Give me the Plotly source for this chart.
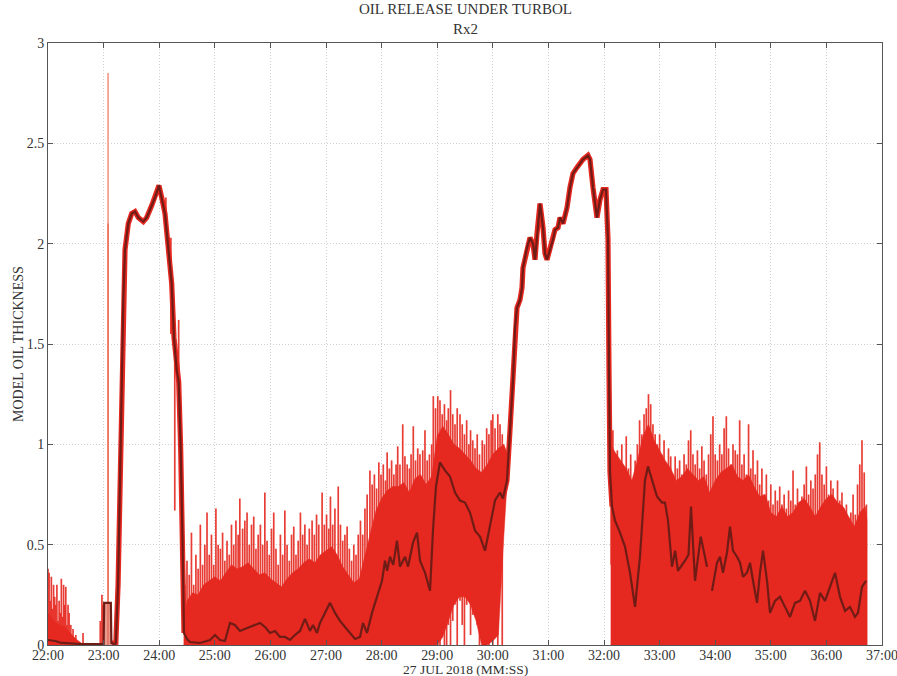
import numpy as np
import plotly.graph_objects as go

# ---------------- data (time in minutes past the hour, thickness in model units) ----------------
# smoothed model oil thickness (dark trace); None marks a gap in the record
mean_t = [22.00, 22.13, 22.22, 22.40, 22.58, 22.76, 22.94, 23.00, 23.01, 23.13, 23.14, 23.20,
          23.22, 23.26, 23.295, 23.326, 23.354, 23.385, 23.444, 23.505, 23.565, 23.624, 23.714,
          23.775, 23.865, 23.924, 23.996, 24.045, 24.104, 24.146, 24.194, 24.225, 24.266, 24.315,
          24.351, 24.387, 24.423, 24.446, 24.50, 24.554, 24.734, 24.914, 25.004, 25.094, 25.183,
          25.273, 25.36, 25.453, 25.54, 25.633, 25.72, 25.813, 25.903, 25.993, 26.083, 26.173,
          26.263, 26.353, 26.442, 26.532, 26.622, 26.712, 26.766, 26.838, 26.892, 26.982, 27.072,
          27.162, 27.252, 27.342, 27.432, 27.522, 27.612, 27.665, 27.737, 27.827, 27.917, 28.007,
          28.061, 28.10, 28.151, 28.21, 28.277, 28.331, 28.421, 28.475, 28.565, 28.637, 28.691,
          28.781, 28.871, 28.924, 28.978, 29.050, 29.140, 29.230, 29.320, 29.410, 29.500, 29.590,
          29.680, 29.770, 29.860, 29.950, 30.040, 30.129, 30.183, 30.255, 30.309, 30.363, 30.40,
          30.435, 30.489, 30.525, 30.543, 30.615, 30.669, 30.723, 30.759, 30.795, 30.849, 30.903,
          30.939, 30.975, 31.029, 31.083, 31.119, 31.173, 31.209, 31.263, 31.335, 31.388, 31.442,
          31.514, 31.568, 31.622, 31.712, 31.748, 31.802, 31.874, 31.928, 31.982, 32.036, 32.072,
          32.090, 32.108, 32.144, 32.198, 32.288, 32.378, 32.468, 32.522, 32.558, 32.647, 32.737,
          32.791, 32.863, 32.953, 33.043, 33.097, 33.151, 33.223, 33.28, 33.33, 33.457, 33.52,
          33.565, 33.637, 33.74, 33.853, None, 33.942, 34.032, 34.086, 34.140, 34.212, 34.266,
          34.320, 34.392, 34.446, 34.500, 34.572, 34.626, 34.680, 34.752, 34.806, 34.860, 34.932,
          34.986, 35.076, 35.165, 35.255, 35.345, 35.435, 35.525, 35.615, 35.705, 35.795, 35.885,
          35.975, 36.065, 36.155, 36.245, 36.335, 36.424, 36.514, 36.568, 36.640, 36.712]
mean_v = [0.025, 0.02, 0.012, 0.008, 0.005, 0.004, 0.004, 0.005, 0.21, 0.21, 0.01, 0.005,
          0.01, 0.30, 0.81, 1.31, 1.72, 1.97, 2.10, 2.15, 2.16, 2.13, 2.11,
          2.13, 2.19, 2.23, 2.29, 2.23, 2.15, 2.03, 1.87, 1.80, 1.53, 1.37,
          1.31, 0.97, 0.47, 0.06, 0.03, 0.015, 0.01, 0.025, 0.05, 0.025, 0.02,
          0.11, 0.10, 0.07, 0.08, 0.09, 0.10, 0.11, 0.09, 0.06, 0.07, 0.04,
          0.04, 0.025, 0.05, 0.07, 0.13, 0.07, 0.10, 0.06, 0.11, 0.16, 0.21,
          0.16, 0.12, 0.09, 0.06, 0.03, 0.04, 0.11, 0.06, 0.16, 0.24, 0.32,
          0.42, 0.37, 0.44, 0.40, 0.52, 0.39, 0.44, 0.39, 0.51, 0.56, 0.42,
          0.36, 0.27, 0.57, 0.79, 0.91, 0.87, 0.84, 0.76, 0.72, 0.71, 0.66,
          0.57, 0.54, 0.47, 0.59, 0.72, 0.76, 0.73, 0.82, 1.07, 1.32, 1.58,
          1.68, 1.72, 1.78, 1.88, 1.98, 2.03, 2.00, 1.92, 2.05, 2.20, 2.08,
          1.95, 1.92, 1.97, 2.02, 2.07, 2.08, 2.13, 2.10, 2.18, 2.28, 2.35,
          2.38, 2.40, 2.42, 2.44, 2.42, 2.28, 2.13, 2.22, 2.27, 2.27, 2.02,
          1.36, 0.86, 0.69, 0.62, 0.56, 0.49, 0.36, 0.24, 0.19, 0.44, 0.82,
          0.89, 0.82, 0.74, 0.71, 0.71, 0.62, 0.39, 0.47, 0.37, 0.42, 0.45,
          0.69, 0.32, 0.54, 0.39, None, 0.27, 0.41, 0.44, 0.36, 0.46, 0.59,
          0.47, 0.44, 0.41, 0.34, 0.36, 0.41, 0.32, 0.21, 0.36, 0.47, 0.32,
          0.16, 0.22, 0.24, 0.19, 0.14, 0.21, 0.22, 0.27, 0.22, 0.12, 0.26,
          0.22, 0.29, 0.36, 0.24, 0.17, 0.19, 0.14, 0.16, 0.29, 0.32]

# dense body of the raw (unsmoothed) trace in its noisy stretches: lower and upper edge
core_t = [22.0, 22.1, 22.2, 22.3, 22.4, 22.5, 22.6,
          24.44, 24.5, 24.6, 24.7, 24.8, 24.9, 25.0, 25.1, 25.2, 25.3, 25.4, 25.5, 25.6, 25.7,
          25.8, 25.9, 26.0, 26.1, 26.2, 26.3, 26.4, 26.5, 26.6, 26.7, 26.8, 26.9, 27.0, 27.1,
          27.2, 27.3, 27.4, 27.5, 27.6, 27.7, 27.8, 27.9, 28.0, 28.1, 28.2, 28.3, 28.4, 28.5,
          28.6, 28.7, 28.8, 28.9, 29.0, 29.1, 29.2, 29.3, 29.4, 29.5, 29.6, 29.7, 29.8, 29.9,
          30.0, 30.1, 30.2, 30.25,
          32.12, 32.2, 32.3, 32.4, 32.5, 32.6, 32.7, 32.8, 32.9, 33.0, 33.1, 33.2, 33.3, 33.4,
          33.5, 33.6, 33.7, 33.8, 33.9, 34.0, 34.1, 34.2, 34.3, 34.4, 34.5, 34.6, 34.7, 34.8,
          34.9, 35.0, 35.1, 35.2, 35.3, 35.4, 35.5, 35.6, 35.7, 35.8, 35.9, 36.0, 36.1, 36.2,
          36.3, 36.4, 36.5, 36.6, 36.7, 36.73]
core_hi = [0.16, 0.12, 0.10, 0.09, 0.06, 0.03, 0.01,
           0.08, 0.22, 0.26, 0.25, 0.30, 0.32, 0.34, 0.32, 0.36, 0.40, 0.38, 0.39, 0.41, 0.38,
           0.35, 0.36, 0.33, 0.31, 0.29, 0.33, 0.36, 0.38, 0.41, 0.43, 0.41, 0.45, 0.47, 0.49,
           0.45, 0.39, 0.35, 0.31, 0.33, 0.45, 0.56, 0.67, 0.73, 0.77, 0.79, 0.79, 0.81, 0.76,
           0.83, 0.85, 0.80, 0.84, 1.04, 1.09, 1.05, 1.00, 0.98, 0.95, 0.92, 0.88, 0.86, 0.90,
           0.95, 0.98, 1.00, 0.96,
           1.00, 0.96, 0.92, 0.88, 0.82, 0.92, 1.04, 1.10, 1.02, 0.97, 0.92, 0.88, 0.82, 0.84,
           0.88, 0.85, 0.82, 0.84, 0.76, 0.82, 0.86, 0.88, 0.90, 0.84, 0.82, 0.85, 0.79, 0.74,
           0.75, 0.66, 0.64, 0.69, 0.64, 0.66, 0.71, 0.73, 0.69, 0.64, 0.69, 0.73, 0.75, 0.71,
           0.69, 0.64, 0.59, 0.66, 0.69, 0.62]
core_lo = [0.0, 0.0, 0.0, 0.0, 0.0, 0.0, 0.0,
           0.0, 0.0, 0.0, 0.0, 0.0, 0.0, 0.0, 0.0, 0.0, 0.0, 0.0, 0.0, 0.0, 0.0,
           0.0, 0.0, 0.0, 0.0, 0.0, 0.0, 0.0, 0.0, 0.0, 0.0, 0.0, 0.0, 0.0, 0.0,
           0.0, 0.0, 0.0, 0.0, 0.0, 0.0, 0.0, 0.0, 0.0, 0.0, 0.0, 0.0, 0.0, 0.0,
           0.0, 0.0, 0.0, 0.0, 0.0, 0.04, 0.12, 0.20, 0.24, 0.24, 0.20, 0.12, 0.0, 0.0,
           0.02, 0.05, 0.55, 0.78,
           0.0, 0.0, 0.0, 0.0, 0.0, 0.0, 0.0, 0.0, 0.0, 0.0, 0.0, 0.0, 0.0, 0.0,
           0.0, 0.0, 0.0, 0.0, 0.0, 0.0, 0.0, 0.0, 0.0, 0.0, 0.0, 0.0, 0.0, 0.0,
           0.0, 0.0, 0.0, 0.0, 0.0, 0.0, 0.0, 0.0, 0.0, 0.0, 0.0, 0.0, 0.0, 0.0,
           0.0, 0.0, 0.0, 0.0, 0.0, 0.0]

# individual excursions of the raw trace: time, bottom and top of each excursion
spike_t = [22.00, 22.02, 22.04, 22.06, 22.08, 22.10, 22.12, 22.14, 22.16, 22.18, 22.20, 22.22,
           22.24, 22.26, 22.28, 22.30, 22.32, 22.34, 22.36, 22.38, 22.41, 22.45, 22.50, 22.63,
           22.94, 22.97, 22.99,
           24.12, 24.21, 24.28, 24.35,
           24.46, 24.50, 24.54, 24.58, 24.62, 24.66, 24.70, 24.74, 24.78, 24.82, 24.86, 24.90,
           24.94, 24.98, 25.02, 25.06, 25.10, 25.14, 25.18, 25.22, 25.26, 25.30, 25.34, 25.38,
           25.42, 25.45, 25.50, 25.54, 25.58, 25.62, 25.66, 25.70, 25.74, 25.78, 25.82, 25.86,
           25.90, 25.94, 25.98, 26.02, 26.06, 26.10, 26.14, 26.18, 26.22, 26.26, 26.30, 26.34,
           26.38, 26.42, 26.46, 26.50, 26.54, 26.58, 26.62, 26.66, 26.70, 26.75, 26.79, 26.83,
           26.87, 26.93, 26.97, 27.01, 27.05, 27.08, 27.12, 27.16, 27.22, 27.26, 27.30, 27.34,
           27.38, 27.42, 27.46, 27.50, 27.54, 27.58, 27.62, 27.66, 27.70, 27.74, 27.79, 27.83,
           27.87, 27.91, 27.95, 27.99, 28.03, 28.07, 28.10, 28.14, 28.18, 28.22, 28.26, 28.29,
           28.33, 28.38, 28.42, 28.46, 28.50, 28.53, 28.57, 28.61, 28.65, 28.69, 28.74, 28.78,
           28.82, 28.86, 28.90, 28.93, 28.97, 29.01, 29.05, 29.09, 29.13, 29.17, 29.20, 29.24,
           29.28, 29.32, 29.36, 29.41, 29.45, 29.49, 29.53, 29.57, 29.60, 29.64, 29.68, 29.72,
           29.76, 29.81, 29.85, 29.89, 29.93, 29.97, 30.00, 30.04, 30.09, 30.13, 30.17,
           32.13, 32.16, 32.20, 32.24, 32.28, 32.32, 32.36, 32.40, 32.44, 32.48, 32.52, 32.56,
           32.60, 32.64, 32.68, 32.72, 32.76, 32.80, 32.84, 32.88, 32.92, 32.96, 33.00, 33.04,
           33.08, 33.12, 33.16, 33.20, 33.24, 33.28, 33.32, 33.36, 33.40, 33.44, 33.48, 33.52,
           33.56, 33.60, 33.64, 33.68, 33.72, 33.76, 33.80, 33.84, 33.88, 33.92, 33.96, 34.00,
           34.04, 34.08, 34.12, 34.16, 34.20, 34.24, 34.28, 34.32, 34.36, 34.40, 34.44, 34.48,
           34.52, 34.56, 34.60, 34.64, 34.68, 34.72, 34.76, 34.80, 34.84, 34.88, 34.92, 34.96,
           35.00, 35.04, 35.08, 35.12, 35.16, 35.20, 35.24, 35.28, 35.32, 35.36, 35.40, 35.44,
           35.48, 35.52, 35.56, 35.60, 35.64, 35.68, 35.72, 35.76, 35.80, 35.84, 35.88, 35.92,
           35.96, 36.00, 36.04, 36.08, 36.12, 36.16, 36.20, 36.24, 36.28, 36.32, 36.36, 36.40,
           36.44, 36.48, 36.52, 36.56, 36.60, 36.64, 36.68, 36.72]
spike_top = [0.38, 0.36, 0.22, 0.34, 0.18, 0.30, 0.24, 0.20, 0.30, 0.12, 0.22, 0.16,
             0.33, 0.14, 0.30, 0.20, 0.29, 0.10, 0.20, 0.16, 0.10, 0.08, 0.05, 0.06,
             0.12, 0.25, 0.20,
             2.23, 2.03, 1.60, 1.62,
             0.30, 0.42, 0.35, 0.56, 0.30, 0.45, 0.38, 0.60, 0.40, 0.50, 0.66, 0.45,
             0.55, 0.40, 0.68, 0.50, 0.48, 0.56, 0.42, 0.52, 0.45, 0.60, 0.50, 0.62,
             0.55, 0.73, 0.58, 0.62, 0.66, 0.50, 0.60, 0.64, 0.48, 0.55, 0.60, 0.50,
             0.76, 0.52, 0.45, 0.58, 0.66, 0.48, 0.40, 0.55, 0.45, 0.67, 0.50, 0.42,
             0.55, 0.59, 0.45, 0.52, 0.66, 0.55, 0.60, 0.50, 0.58, 0.62, 0.55, 0.65,
             0.60, 0.76, 0.60, 0.65, 0.58, 0.74, 0.60, 0.68, 0.79, 0.60, 0.52, 0.55,
             0.59, 0.48, 0.42, 0.50, 0.45, 0.55, 0.62, 0.55, 0.68, 0.75, 0.87, 0.80,
             0.85, 0.78, 0.91, 0.85, 0.90, 0.82, 0.96, 0.88, 0.92, 0.85, 0.90, 0.99,
             0.90, 1.10, 0.94, 0.90, 0.88, 0.95, 1.09, 0.92, 0.98, 0.95, 0.97, 1.07,
             0.92, 0.95, 1.00, 1.24, 1.18, 1.24, 1.22, 1.15, 1.20, 1.12, 1.18, 1.27,
             1.15, 1.10, 1.18, 1.15, 1.10, 1.05, 1.12, 1.00, 1.07, 1.02, 0.98, 1.05,
             0.95, 1.02, 1.00, 1.08, 1.05, 1.12, 1.15, 1.08, 1.15, 1.10, 1.05,
             1.05, 1.07, 0.95, 0.97, 0.90, 1.00, 0.85, 1.04, 0.88, 0.95, 0.80, 0.92,
             1.00, 1.12, 1.05, 1.15, 1.18, 1.25, 1.20, 1.10, 1.05, 1.00, 1.05, 0.95,
             1.02, 0.90, 0.98, 0.94, 0.85, 0.94, 0.88, 0.92, 0.85, 0.95, 0.90, 1.02,
             1.07, 0.95, 0.90, 0.97, 0.88, 0.99, 0.92, 0.85, 0.95, 1.05, 1.14, 0.95,
             0.92, 1.00, 0.95, 1.08, 1.14, 0.98, 0.90, 1.00, 0.97, 0.95, 1.12, 0.90,
             0.95, 0.85, 1.10, 0.88, 0.97, 0.85, 0.92, 0.80, 0.88, 0.75, 0.85, 0.72,
             0.80, 0.70, 0.77, 0.72, 0.79, 0.70, 0.75, 0.68, 0.77, 0.72, 0.87, 0.70,
             0.78, 0.69, 0.74, 0.80, 0.89, 0.75, 0.82, 0.78, 0.85, 0.95, 1.01, 0.85,
             0.80, 0.89, 0.75, 0.82, 0.78, 0.70, 0.82, 0.72, 0.76, 0.68, 0.70, 0.62,
             0.66, 0.75, 0.65, 0.80, 0.90, 1.02, 0.86, 0.70]
spike_base = [0.0] * 27 + [2.05, 1.55, 0.67, 1.20] + [0.0] * 112 + \
             [0.0, 0.0, 0.0, 0.05, 0.0, 0.0, 0.10, 0.0, 0.12, 0.20, 0.0, 0.22,
              0.10, 0.0, 0.20, 0.22, 0.05, 0.15, 0.20, 0.10, 0.0, 0.05, 0.0, 0.02,
              0.0, 0.10, 0.0, 0.12, 0.0, 0.30, 0.0, 0.40] + [0.0] * 128

# isolated flash just after 23:00
flash_t = [23.08]
flash_top = [2.85]
flash_core = [2.10]

tick_minutes = list(range(22, 38))
tick_text = [f"{m}:00" for m in tick_minutes]
ytick_vals = [0, 0.5, 1, 1.5, 2, 2.5, 3]
ytick_text = ["0", "0.5", "1", "1.5", "2", "2.5", "3"]

# ---------------- drawing ----------------
RED = "rgb(229,40,32)"
RED_THIN = "rgba(230,44,36,0.92)"
DARK = "rgb(112,28,22)"
FONT = "Liberation Serif, Times New Roman, serif"
TXT = "#333333"

mt = np.array([np.nan if v is None else v for v in mean_t], dtype=float)
mv = np.array([np.nan if v is None else v for v in mean_v], dtype=float)

fig = go.Figure()

# raw-trace excursions as thin vertical strokes
sx, sy = [], []
for t, b, top in zip(spike_t, spike_base, spike_top):
    sx += [t, t, None]
    sy += [b, top, None]
fig.add_trace(go.Scatter(x=sx, y=sy, mode="lines", line=dict(color=RED_THIN, width=1.7),
                         hoverinfo="skip", showlegend=False))

# dense body of the raw trace, one filled polygon per contiguous stretch
ct = np.array(core_t)
breaks = np.where(np.diff(ct) > 0.5)[0] + 1
for idx in np.split(np.arange(len(ct)), breaks):
    xs = list(ct[idx]) + list(ct[idx][::-1])
    ys = [core_hi[i] for i in idx] + [core_lo[i] for i in idx[::-1]]
    fig.add_trace(go.Scatter(x=xs, y=ys, mode="lines", fill="toself", fillcolor=RED,
                             line=dict(color=RED, width=0.5), hoverinfo="skip",
                             showlegend=False))

# flash
for top, col, w in [(flash_top[0], "rgb(242,150,130)", 1.6), (flash_core[0], "rgb(236,95,75)", 1.2)]:
    fig.add_trace(go.Scatter(x=[flash_t[0], flash_t[0]], y=[0, top], mode="lines",
                             line=dict(color=col, width=w), hoverinfo="skip", showlegend=False))

# small plateau just after 23:00, shaded underneath
box = (mt >= 23.0) & (mt <= 23.14)
fig.add_trace(go.Scatter(x=mt[box], y=mv[box], mode="lines", fill="tozeroy",
                         fillcolor="rgba(225,120,105,0.75)", line=dict(width=0),
                         hoverinfo="skip", showlegend=False))

# raw trace in the quiet high-thickness stretches hugs the smoothed curve
quiet = ((mt >= 23.14) & (mt <= 24.45)) | ((mt >= 30.18) & (mt <= 32.15))
fig.add_trace(go.Scatter(x=mt, y=np.where(quiet, mv, np.nan), mode="lines",
                         line=dict(color=RED, width=5.2), hoverinfo="skip", showlegend=False))

# smoothed thickness
fig.add_trace(go.Scatter(x=mt, y=mv, mode="lines", line=dict(color=DARK, width=2.2),
                         connectgaps=False, hoverinfo="skip", showlegend=False))

axis_common = dict(showline=True, linecolor="#555555", linewidth=1, mirror="ticks",
                   ticks="inside", ticklen=5, tickcolor="#555555", automargin=False,
                   ticklabeloverflow="allow",
                   showgrid=True, gridcolor="#cfcfcf", gridwidth=1, griddash="1px,2px",
                   zeroline=False, tickfont=dict(family=FONT, size=14, color=TXT))

fig.update_xaxes(range=[22, 37], tickvals=tick_minutes, ticktext=tick_text,
                 ticklabelstandoff=-3, **axis_common)
fig.update_yaxes(range=[0, 3], tickvals=ytick_vals, ticktext=ytick_text, **axis_common)

fig.update_layout(
    width=897, height=676, autosize=False,
    margin=dict(l=48, r=15, t=43, b=31),
    paper_bgcolor="white", plot_bgcolor="white",
    annotations=[
        dict(text="OIL RELEASE UNDER TURBOL<br>Rx2", xref="paper", yref="paper",
             x=0.5, y=1, yshift=24, yanchor="middle", showarrow=False,
             font=dict(family=FONT, size=15, color=TXT)),
        dict(text="27 JUL 2018 (MM:SS)", xref="paper", yref="paper", x=0.5, y=0,
             yshift=-24, yanchor="middle", showarrow=False,
             font=dict(family=FONT, size=13.5, color=TXT)),
        dict(text="MODEL OIL THICKNESS", xref="paper", yref="paper", x=0, y=0.5,
             xshift=-30, xanchor="center", yanchor="middle", textangle=-90,
             showarrow=False, font=dict(family=FONT, size=14, color=TXT)),
    ],
    showlegend=False,
)

fig.write_html("out.html", config={"responsive": False},
               post_script="document.body.style.margin='0';document.body.style.overflow='hidden';")
